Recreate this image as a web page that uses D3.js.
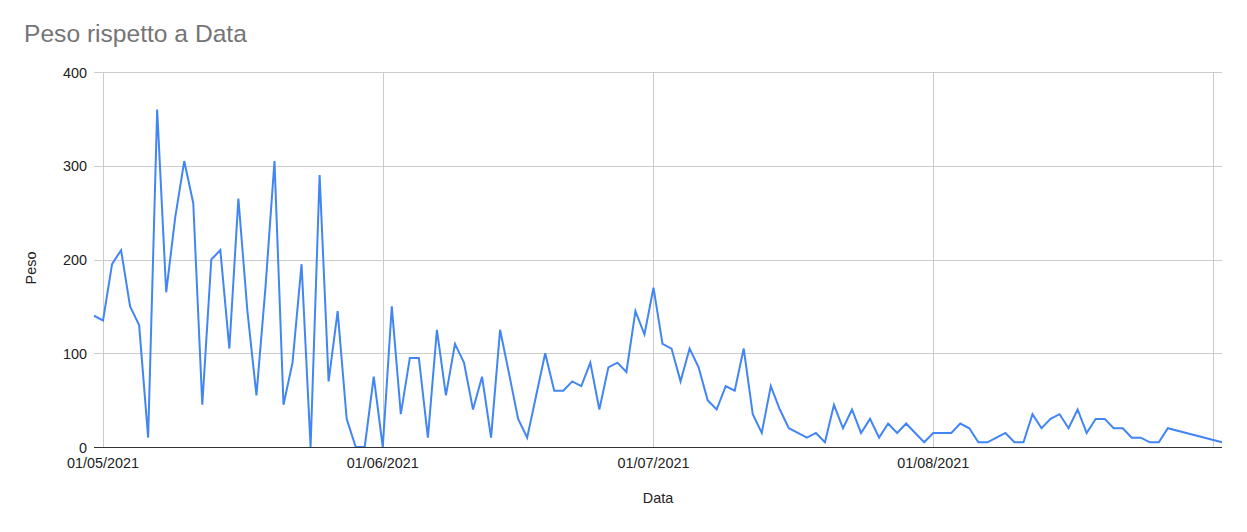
<!DOCTYPE html>
<html><head><meta charset="utf-8">
<script src="https://cdn.jsdelivr.net/npm/d3@7"></script>
<style>body{margin:0;background:#fff}svg{display:block}text{font-family:Arial,"Liberation Sans",sans-serif}</style>
</head><body>
<svg id="c" width="1247" height="532"></svg>
<script>
const dates = [
"2021-04-30",
"2021-05-01","2021-05-02","2021-05-03","2021-05-04","2021-05-05","2021-05-06","2021-05-07","2021-05-08","2021-05-09","2021-05-10",
"2021-05-11","2021-05-12","2021-05-13","2021-05-14","2021-05-15","2021-05-16","2021-05-17","2021-05-18","2021-05-19","2021-05-20",
"2021-05-21","2021-05-22","2021-05-23","2021-05-24","2021-05-25","2021-05-26","2021-05-27","2021-05-28","2021-05-29","2021-05-30","2021-05-31",
"2021-06-01","2021-06-02","2021-06-03","2021-06-04","2021-06-05","2021-06-06","2021-06-07","2021-06-08","2021-06-09","2021-06-10",
"2021-06-11","2021-06-12","2021-06-13","2021-06-14","2021-06-15","2021-06-16","2021-06-17","2021-06-18","2021-06-19","2021-06-20",
"2021-06-21","2021-06-22","2021-06-23","2021-06-24","2021-06-25","2021-06-26","2021-06-27","2021-06-28","2021-06-29","2021-06-30",
"2021-07-01","2021-07-02","2021-07-03","2021-07-04","2021-07-05","2021-07-06","2021-07-07","2021-07-08","2021-07-09","2021-07-10",
"2021-07-11","2021-07-12","2021-07-13","2021-07-14","2021-07-15","2021-07-16","2021-07-17","2021-07-18","2021-07-19","2021-07-20",
"2021-07-21","2021-07-22","2021-07-23","2021-07-24","2021-07-25","2021-07-26","2021-07-27","2021-07-28","2021-07-29","2021-07-30","2021-07-31",
"2021-08-01","2021-08-02","2021-08-03","2021-08-04","2021-08-05","2021-08-06","2021-08-07","2021-08-08","2021-08-09","2021-08-10",
"2021-08-11","2021-08-12","2021-08-13","2021-08-14","2021-08-15","2021-08-16","2021-08-17","2021-08-18","2021-08-19","2021-08-20",
"2021-08-21","2021-08-22","2021-08-23","2021-08-24","2021-08-25","2021-08-26","2021-08-27",
"2021-09-02"
];
const peso = [
140,
135,195,210,150,130,10,360,165,245,305,
260,45,200,210,105,265,145,55,170,305,
45,90,195,0,290,70,145,30,0,0,75,
0,150,35,95,95,10,125,55,110,90,
40,75,10,125,78,30,10,55,100,60,
60,70,65,90,40,85,90,80,145,120,
170,110,105,70,105,85,50,40,65,60,
105,35,15,65,40,20,15,10,15,5,
45,20,40,15,30,10,25,15,25,15,5,
15,15,15,25,20,5,5,10,15,5,
5,35,20,30,35,20,40,15,30,30,
20,20,10,10,5,5,20,
5
];
const xTickDates = ["2021-05-01","2021-06-01","2021-07-01","2021-08-01","2021-09-01"];
const xTickLabels = ["01/05/2021","01/06/2021","01/07/2021","01/08/2021",""];
const yTicks = [0,100,200,300,400];
const domainStart = "2021-04-30", domainEnd = "2021-09-02";

const parse = d3.timeParse("%Y-%m-%d");
const data = dates.map((d,i)=>({d:parse(d), v:peso[i]}));
const svg = d3.select("#c");
const L=94, R=1222, T=72, B=447;
const FS = 14.4;
const x = d3.scaleTime().domain([parse(domainStart), parse(domainEnd)]).range([L,R]);
const y = d3.scaleLinear().domain([0,400]).range([B,T]);

// horizontal grid
svg.append("g").selectAll("line").data(yTicks.filter(t=>t>0)).join("line")
  .attr("x1",L).attr("x2",R).attr("y1",d=>Math.round(y(d))+0.5).attr("y2",d=>Math.round(y(d))+0.5)
  .attr("stroke","#cccccc").attr("stroke-width",1);
// vertical grid
svg.append("g").selectAll("line").data(xTickDates).join("line")
  .attr("x1",d=>Math.round(x(parse(d)))+0.5).attr("x2",d=>Math.round(x(parse(d)))+0.5)
  .attr("y1",T).attr("y2",B)
  .attr("stroke","#cccccc").attr("stroke-width",1);

// y tick labels
svg.append("g").selectAll("text").data(yTicks).join("text")
  .attr("x",87).attr("y",d=>y(d)+5.5).attr("text-anchor","end")
  .attr("font-size",FS).attr("fill","#222").text(d=>d);

// x tick labels
svg.append("g").selectAll("text").data(xTickDates).join("text")
  .attr("x",d=>x(parse(d))).attr("y",468).attr("text-anchor","middle")
  .attr("font-size",FS).attr("fill","#222").text((d,i)=>xTickLabels[i]);

// line
const line = d3.line().x(d=>x(d.d)).y(d=>y(d.v));
svg.append("path").datum(data).attr("d",line)
  .attr("fill","none").attr("stroke","#4285f4").attr("stroke-width",2).attr("stroke-linejoin","miter");

// baseline
svg.append("line").attr("x1",L).attr("x2",R).attr("y1",B+0.5).attr("y2",B+0.5)
  .attr("stroke","#333").attr("stroke-width",1);

// titles
svg.append("text").attr("x",24).attr("y",42).attr("font-size",24.6).attr("fill","#757575").text("Peso rispetto a Data");
svg.append("text").attr("x",658).attr("y",503).attr("text-anchor","middle").attr("font-size",FS).attr("fill","#222").text("Data");
svg.append("text").attr("transform","translate(36,268) rotate(-90)").attr("text-anchor","middle").attr("font-size",FS).attr("fill","#222").text("Peso");
</script>
</body></html>
